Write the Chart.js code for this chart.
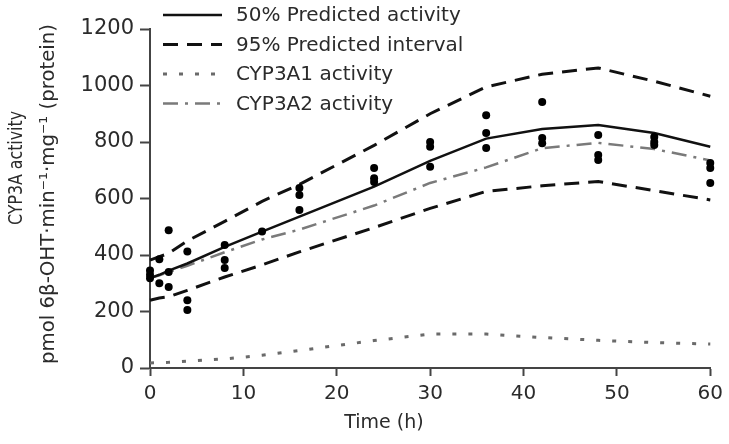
<!DOCTYPE html>
<html lang="en">
<head>
    <meta charset="UTF-8">
    <title>CYP3A activity over time</title>
    <script src="https://cdn.jsdelivr.net/npm/chart.js"></script>
    <style>
        body {
            margin: 0;
            background-color: #fff;
        }
        .chart-container {
            position: relative;
            width: 729px;
            height: 444px;
        }
    </style>
</head>
<body>
<div class="chart-container">
    <canvas id="activityChart"></canvas>
</div>

<script>
    // model curves (all sampled at modelTime)
    const modelTime = [0, 1, 2, 4, 8, 12, 16, 24, 30, 36, 42, 48, 54, 60];
    const median50 = [318, 330, 345, 370, 429, 483, 536, 642, 733, 812, 846, 860, 832, 783];
    const upper95 = [382, 394, 406, 450, 519, 590, 650, 788, 900, 995, 1040, 1062, 1015, 962];
    const lower95 = [240, 248, 252, 275, 322, 365, 411, 497, 565, 625, 645, 660, 628, 595];
    const cyp3a1 = [18, 19, 20, 24, 32, 45, 62, 97, 120, 120, 108, 98, 90, 85];
    const cyp3a2 = [318, 328, 340, 362, 410, 455, 490, 575, 655, 710, 778, 797, 775, 735];

    // measured activity
    const obsTime = [0, 0, 0, 1, 1, 2, 2, 2, 4, 4, 4, 8, 8, 8, 12, 16, 16, 16, 24, 24, 24,
        30, 30, 30, 36, 36, 36, 42, 42, 42, 48, 48, 48, 54, 54, 54, 60, 60, 60];
    const obsActivity = [345, 330, 318, 385, 300, 488, 340, 287, 412, 240, 205, 435, 382, 354, 483,
        637, 612, 559, 708, 672, 658, 800, 783, 712, 895, 832, 779, 942, 814, 796,
        825, 754, 736, 818, 800, 789, 726, 708, 655];

    const seriesLabels = ['50% Predicted activity', '95% Predicted interval', 'CYP3A1 activity', 'CYP3A2 activity'];
    const yTitle = ['CYP3A activity', 'pmol 6β-OHT·min⁻¹·mg⁻¹ (protein)'];
    const xTitle = 'Time (h)';

    const FONT = '"DejaVu Sans", sans-serif';
    const TEXT = '#2b2b2b';
    const AXIS = '#444';

    function toPoints(ys) {
        return modelTime.map((t, i) => ({ x: t, y: ys[i] }));
    }

    // rotated text squeezed along its length to a given width
    function verticalText(ctx, text, cx, cy, font, width) {
        ctx.save();
        ctx.font = font;
        ctx.translate(cx, cy);
        ctx.rotate(-Math.PI / 2);
        const w = ctx.measureText(text).width;
        if (w > width) ctx.scale(width / w, 1);
        ctx.fillText(text, 0, 0);
        ctx.restore();
    }

    // legend inside the plot + axis titles
    const annotations = {
        id: 'annotations',
        afterDraw(chart) {
            const ctx = chart.ctx;
            const ds = chart.data.datasets;
            const rows = [ds[0], ds[1], ds[3], ds[4]];
            ctx.save();
            ctx.textBaseline = 'middle';
            ctx.fillStyle = TEXT;
            ctx.font = '20px ' + FONT;
            rows.forEach((d, i) => {
                const y = 15 + i * 29.5;
                ctx.beginPath();
                ctx.strokeStyle = d.borderColor;
                ctx.lineWidth = d.borderWidth;
                ctx.setLineDash(d.borderDash || []);
                ctx.moveTo(163, y);
                ctx.lineTo(222, y);
                ctx.stroke();
                ctx.fillText(seriesLabels[i], 236, y + 1);
            });
            ctx.setLineDash([]);

            // x title
            ctx.textAlign = 'center';
            ctx.font = '19px ' + FONT;
            ctx.fillText(xTitle, 384, 423);

            // y title, two rotated lines
            verticalText(ctx, yTitle[0], 17, 168, '19px ' + FONT, 114);
            verticalText(ctx, yTitle[1], 49, 194, '20px ' + FONT, 340);
            ctx.restore();
        }
    };

    const lineBase = { showLine: true, pointRadius: 0, fill: false, tension: 0, order: 1, clip: false };

    new Chart(document.getElementById('activityChart'), {
        type: 'scatter',
        data: {
            datasets: [
                Object.assign({ label: seriesLabels[0], data: toPoints(median50),
                    borderColor: '#111', borderWidth: 2.5 }, lineBase),
                Object.assign({ label: seriesLabels[1], data: toPoints(upper95),
                    borderColor: '#111', borderWidth: 3, borderDash: [15, 9] }, lineBase),
                Object.assign({ data: toPoints(lower95),
                    borderColor: '#111', borderWidth: 3, borderDash: [15, 9] }, lineBase),
                Object.assign({ label: seriesLabels[2], data: toPoints(cyp3a1),
                    borderColor: '#6a6a6a', borderWidth: 3, borderDash: [4, 12] }, lineBase),
                Object.assign({ label: seriesLabels[3], data: toPoints(cyp3a2),
                    borderColor: '#7a7a7a', borderWidth: 2.5, borderDash: [15, 7, 3, 7] }, lineBase),
                {
                    data: obsTime.map((t, i) => ({ x: t, y: obsActivity[i] })),
                    pointRadius: 4,
                    pointBackgroundColor: '#000',
                    pointBorderWidth: 0,
                    showLine: false,
                    clip: false,
                    order: 0
                }
            ]
        },
        options: {
            responsive: true,
            maintainAspectRatio: false,
            animation: false,
            layout: {
                padding: { top: 29, right: 17, left: 0, bottom: 0 }
            },
            plugins: {
                legend: { display: false },
                tooltip: { enabled: false }
            },
            scales: {
                x: {
                    type: 'linear',
                    min: 0,
                    max: 60,
                    ticks: {
                        stepSize: 10,
                        color: TEXT,
                        padding: 6,
                        maxRotation: 0,
                        font: { family: FONT, size: 20 }
                    },
                    grid: {
                        drawOnChartArea: false,
                        drawTicks: true,
                        tickLength: 8,
                        tickWidth: 2,
                        tickColor: AXIS
                    },
                    border: { color: AXIS, width: 2 },
                    afterFit(scale) { scale.height = 76; }
                },
                y: {
                    min: 0,
                    max: 1200,
                    ticks: {
                        stepSize: 200,
                        color: TEXT,
                        padding: 6,
                        font: { family: FONT, size: 21 },
                        callback: (v) => String(v)
                    },
                    grid: {
                        drawOnChartArea: false,
                        drawTicks: true,
                        tickLength: 10,
                        tickWidth: 2,
                        tickColor: AXIS
                    },
                    border: { color: AXIS, width: 2 },
                    afterFit(scale) { scale.width = 150; }
                }
            }
        },
        plugins: [annotations]
    });
</script>
</body>
</html>
